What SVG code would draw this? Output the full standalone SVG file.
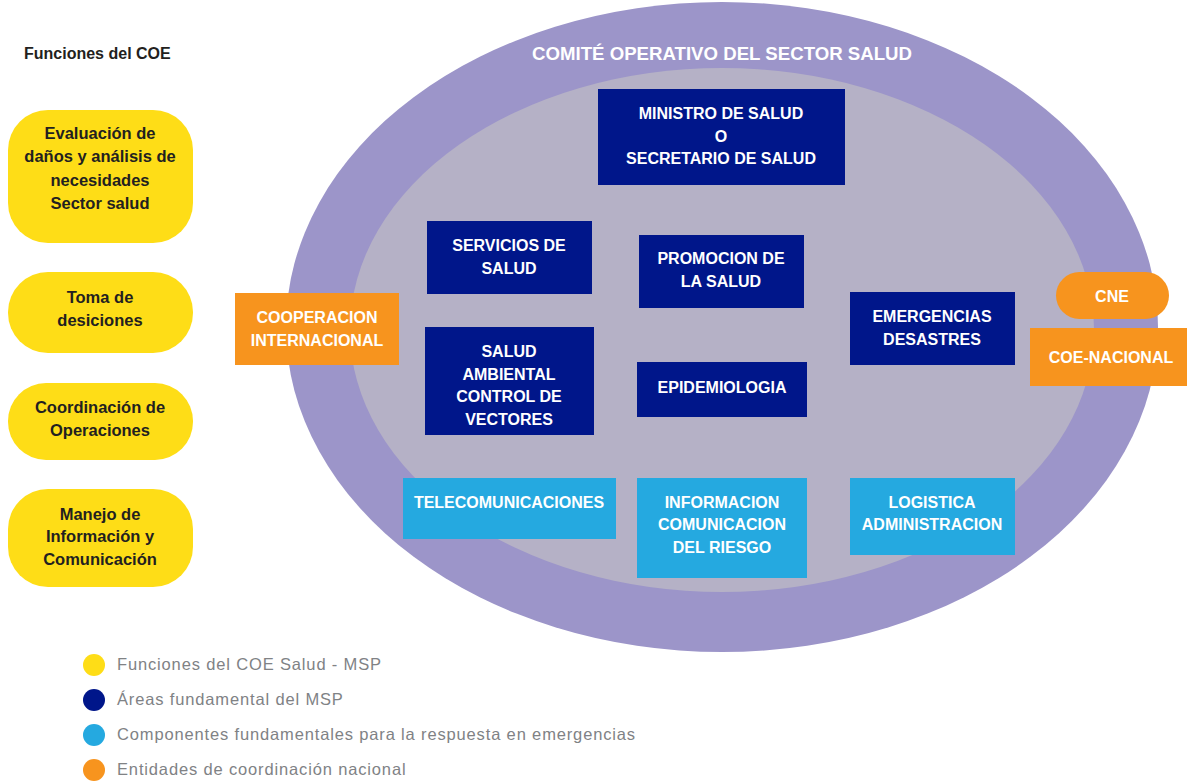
<svg xmlns="http://www.w3.org/2000/svg" width="1187" height="781" viewBox="0 0 1187 781">
<style>
text{font-family:"Liberation Sans",Arial,sans-serif;}
.w{fill:#fff;font-weight:bold;font-size:16px;text-anchor:middle;}
.k{fill:#231f20;font-weight:bold;font-size:16.5px;text-anchor:middle;}
.lg{fill:#808285;font-size:16.5px;letter-spacing:0.85px;}
.dk{fill:#00168a;}
.lt{fill:#25a9e0;}
.or{fill:#f7941e;}
.ye{fill:#fedd17;}
</style>
<rect width="1187" height="781" fill="#fff"/>
<g id="comite">
<ellipse cx="722" cy="327" rx="436" ry="325" fill="#9c95c9"/>
<ellipse cx="722" cy="330" rx="372" ry="262" fill="#b5b1c6"/>
<text x="532" y="60" fill="#fff" font-size="19" font-weight="bold" textLength="380" lengthAdjust="spacingAndGlyphs">COMITÉ OPERATIVO DEL SECTOR SALUD</text>
</g>
<text x="24" y="59" font-size="16" fill="#231f20" font-weight="bold">Funciones del COE</text>
<g id="f1"><rect class="ye" x="8" y="110" width="185" height="133" rx="40"/>
<text class="k" x="100" y="139">Evaluación de</text><text class="k" x="100" y="162">daños y análisis de</text><text class="k" x="100" y="186">necesidades</text><text class="k" x="100" y="209">Sector salud</text></g>
<g id="f2"><rect class="ye" x="8" y="272" width="185" height="81" rx="40"/>
<text class="k" x="100" y="303">Toma de</text><text class="k" x="100" y="326">desiciones</text></g>
<g id="f3"><rect class="ye" x="8" y="383" width="185" height="77" rx="38"/>
<text class="k" x="100" y="413">Coordinación de</text><text class="k" x="100" y="436">Operaciones</text></g>
<g id="f4"><rect class="ye" x="8" y="489" width="185" height="98" rx="40"/>
<text class="k" x="100" y="520">Manejo de</text><text class="k" x="100" y="542">Información y</text><text class="k" x="100" y="565">Comunicación</text></g>
<g id="ministro"><rect class="dk" x="598" y="89" width="247" height="96"/>
<text class="w" x="721" y="119">MINISTRO DE SALUD</text><text class="w" x="721" y="142">O</text><text class="w" x="721" y="164">SECRETARIO DE SALUD</text></g>
<g id="servicios"><rect class="dk" x="427" y="221" width="165" height="73"/>
<text class="w" x="509" y="251">SERVICIOS DE</text><text class="w" x="509" y="274">SALUD</text></g>
<g id="promocion"><rect class="dk" x="639" y="235" width="165" height="73"/>
<text class="w" x="721" y="264">PROMOCION DE</text><text class="w" x="721" y="287">LA SALUD</text></g>
<g id="ambiental"><rect class="dk" x="425" y="327" width="169" height="108"/>
<text class="w" x="509" y="357">SALUD</text><text class="w" x="509" y="380">AMBIENTAL</text><text class="w" x="509" y="402">CONTROL DE</text><text class="w" x="509" y="425">VECTORES</text></g>
<g id="epidemiologia"><rect class="dk" x="637" y="362" width="170" height="55"/>
<text class="w" x="722" y="393">EPIDEMIOLOGIA</text></g>
<g id="emergencias"><rect class="dk" x="850" y="292" width="165" height="73"/>
<text class="w" x="932" y="322">EMERGENCIAS</text><text class="w" x="932" y="345">DESASTRES</text></g>
<g id="cooperacion"><rect class="or" x="235" y="293" width="164" height="72"/>
<text class="w" x="317" y="323">COOPERACION</text><text class="w" x="317" y="346">INTERNACIONAL</text></g>
<g id="cne"><rect class="or" x="1056" y="272" width="113" height="47" rx="23.5"/>
<text class="w" x="1112" y="302">CNE</text></g>
<g id="coe-nacional"><rect class="or" x="1030" y="328" width="157" height="58"/>
<text class="w" x="1111" y="363">COE-NACIONAL</text></g>
<g id="telecom"><rect class="lt" x="403" y="478" width="213" height="61"/>
<text class="w" x="509" y="508">TELECOMUNICACIONES</text></g>
<g id="informacion"><rect class="lt" x="637" y="478" width="170" height="100"/>
<text class="w" x="722" y="508">INFORMACION</text><text class="w" x="722" y="530">COMUNICACION</text><text class="w" x="722" y="553">DEL RIESGO</text></g>
<g id="logistica"><rect class="lt" x="850" y="478" width="165" height="77"/>
<text class="w" x="932" y="508">LOGISTICA</text><text class="w" x="932" y="530">ADMINISTRACION</text></g>
<g id="legend">
<circle class="ye" cx="94" cy="665" r="11"/><text class="lg" x="117" y="670">Funciones del COE Salud - MSP</text>
<circle class="dk" cx="94" cy="700" r="11"/><text class="lg" x="117" y="705">Áreas fundamental del MSP</text>
<circle class="lt" cx="94" cy="735" r="11"/><text class="lg" x="117" y="740">Componentes fundamentales para la respuesta en emergencias</text>
<circle class="or" cx="94" cy="770" r="11"/><text class="lg" x="117" y="775">Entidades de coordinación nacional</text>
</g>
<g id="connectors"></g>
</svg>
